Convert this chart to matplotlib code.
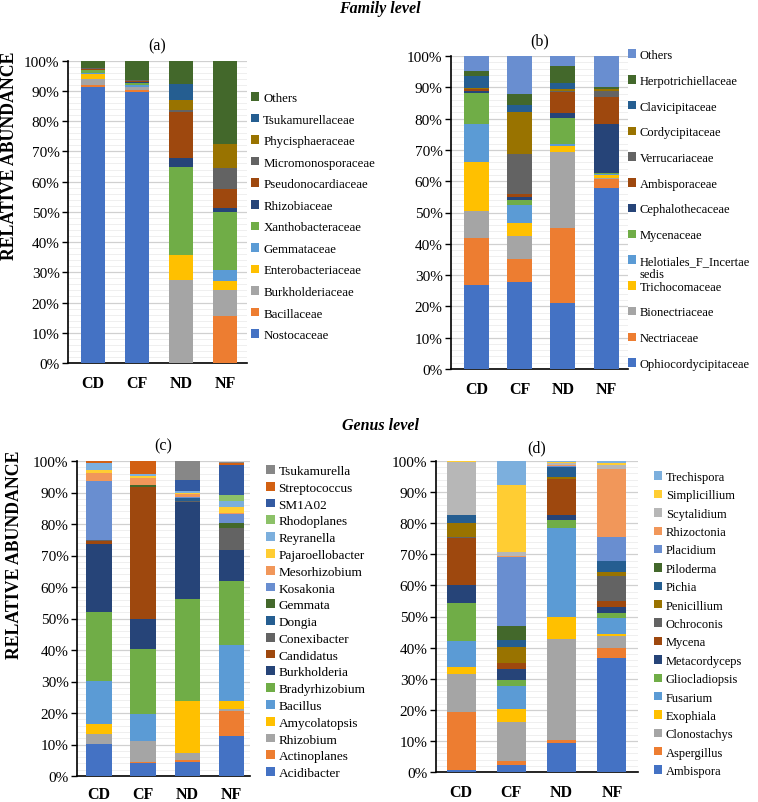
import matplotlib
matplotlib.use("Agg")
import matplotlib.pyplot as plt
from matplotlib.patches import Patch
from matplotlib.ticker import MultipleLocator, FuncFormatter

plt.rcParams['font.family'] = ['Liberation Serif', 'DejaVu Serif']

samples = ["CD", "CF", "ND", "NF"]

# (a) bacterial families, bottom -> top
fam_bac_names = ["Nostocaceae", "Bacillaceae", "Burkholderiaceae", "Enterobacteriaceae",
                 "Gemmataceae", "Xanthobacteraceae", "Rhizobiaceae", "Pseudonocardiaceae",
                 "Micromonosporaceae", "Phycisphaeraceae", "Tsukamurellaceae", "Others"]
fam_bac_vals = [
    [91.2, 89.7, 0.0, 0.0],
    [0.9, 0.6, 0.0, 15.5],
    [1.7, 0.9, 27.5, 8.7],
    [1.9, 0.2, 8.1, 2.8],
    [0.3, 0.4, 0.1, 3.9],
    [0.9, 0.8, 29.2, 19.2],
    [0.1, 0.3, 3.0, 1.2],
    [0.3, 0.4, 15.1, 6.1],
    [0.2, 0.2, 0.8, 7.0],
    [0.1, 0.1, 3.1, 8.1],
    [0.1, 0.1, 5.3, 0.0],
    [2.3, 6.3, 7.8, 27.5],
]
fam_bac_colors = ["#4472C4", "#ED7D31", "#A5A5A5", "#FFC000", "#5B9BD5", "#70AD47",
                  "#264478", "#9E480E", "#636363", "#997300", "#255E91", "#43682B"]

# (b) fungal families, bottom -> top
fam_fun_names = ["Ophiocordycipitaceae", "Nectriaceae", "Bionectriaceae", "Trichocomaceae",
                 "Helotiales_F_Incertae sedis", "Mycenaceae", "Cephalothecaceae", "Ambisporaceae",
                 "Verrucariaceae", "Cordycipitaceae", "Clavicipitaceae", "Herpotrichiellaceae",
                 "Others"]
fam_fun_vals = [
    [26.8, 27.7, 21.0, 57.8],
    [15.2, 7.4, 24.1, 2.8],
    [8.5, 7.5, 24.3, 0.4],
    [15.5, 3.9, 1.7, 0.9],
    [12.4, 5.9, 0.7, 0.5],
    [9.9, 1.5, 8.5, 0.3],
    [0.5, 0.9, 1.4, 15.5],
    [0.6, 1.1, 6.9, 8.8],
    [0.2, 12.7, 0.3, 1.8],
    [0.2, 13.5, 0.5, 0.6],
    [3.7, 2.2, 2.1, 0.2],
    [1.6, 3.7, 5.3, 0.5],
    [4.9, 12.0, 3.2, 9.9],
]
fam_fun_colors = ["#4472C4", "#ED7D31", "#A5A5A5", "#FFC000", "#5B9BD5", "#70AD47",
                  "#264478", "#9E480E", "#636363", "#997300", "#255E91", "#43682B", "#698ED0"]

# (c) bacterial genera, bottom -> top
gen_bac_names = ["Acidibacter", "Actinoplanes", "Rhizobium", "Amycolatopsis", "Bacillus",
                 "Bradyrhizobium", "Burkholderia", "Candidatus", "Conexibacter", "Dongia",
                 "Gemmata", "Kosakonia", "Mesorhizobium", "Pajaroellobacter", "Reyranella",
                 "Rhodoplanes", "SM1A02", "Streptococcus", "Tsukamurella"]
gen_bac_vals = [
    [10.2, 4.1, 4.4, 12.7],
    [0.0, 0.5, 0.8, 7.9],
    [3.2, 6.4, 2.2, 0.7],
    [3.1, 0.0, 16.3, 2.5],
    [13.7, 8.7, 0.0, 17.9],
    [21.8, 20.6, 32.5, 20.3],
    [21.8, 9.5, 30.7, 9.8],
    [0.9, 41.8, 0.0, 0.0],
    [0.2, 0.3, 0.3, 6.8],
    [0.0, 0.0, 1.0, 0.0],
    [0.0, 0.6, 0.0, 1.8],
    [18.6, 0.0, 0.5, 2.7],
    [2.6, 2.0, 0.7, 0.5],
    [1.0, 0.6, 0.5, 1.9],
    [2.2, 0.7, 0.5, 1.8],
    [0.0, 0.0, 0.0, 1.9],
    [0.1, 0.0, 3.5, 9.5],
    [0.6, 4.2, 0.0, 0.8],
    [0.0, 0.0, 6.1, 0.3],
]
gen_bac_colors = ["#4472C4", "#ED7D31", "#A5A5A5", "#FFC000", "#5B9BD5", "#70AD47",
                  "#264478", "#9E480E", "#636363", "#255E91", "#43682B", "#698ED0",
                  "#F1975A", "#FFCD33", "#7CAFDD", "#8CC168", "#335AA1", "#D26012", "#878787"]

# (d) fungal genera, bottom -> top
gen_fun_names = ["Ambispora", "Aspergillus", "Clonostachys", "Exophiala", "Fusarium",
                 "Gliocladiopsis", "Metacordyceps", "Mycena", "Ochroconis", "Penicillium",
                 "Pichia", "Piloderma", "Placidium", "Rhizoctonia", "Scytalidium",
                 "Simplicillium", "Trechispora"]
gen_fun_vals = [
    [0.5, 2.1, 9.3, 36.7],
    [18.8, 1.3, 1.1, 3.1],
    [12.3, 12.6, 32.4, 3.8],
    [2.1, 4.3, 7.1, 0.8],
    [8.5, 7.3, 28.7, 5.0],
    [12.3, 2.1, 2.4, 1.6],
    [5.7, 3.5, 1.6, 2.2],
    [15.0, 1.8, 11.7, 1.9],
    [0.3, 0.0, 0.0, 8.0],
    [4.5, 5.3, 0.7, 1.3],
    [2.7, 2.2, 3.2, 3.3],
    [0.0, 4.3, 0.0, 0.0],
    [0.0, 22.2, 0.2, 7.9],
    [0.0, 0.3, 0.4, 21.7],
    [16.9, 1.3, 0.5, 1.3],
    [0.4, 21.7, 0.5, 0.9],
    [0.0, 7.7, 0.2, 0.5],
]
gen_fun_colors = ["#4472C4", "#ED7D31", "#A5A5A5", "#FFC000", "#5B9BD5", "#70AD47",
                  "#264478", "#9E480E", "#636363", "#997300", "#255E91", "#43682B",
                  "#698ED0", "#F1975A", "#B7B7B7", "#FFCD33", "#7CAFDD"]

W, H = 758, 803
fig = plt.figure(figsize=(W / 100, H / 100), dpi=100)


def px_axes(left, right, top, bottom):
    return fig.add_axes([left / W, 1 - bottom / H, (right - left) / W, (bottom - top) / H])


def draw_panel(ax, names, vals, colors, xlim, width, title, title_pad, ylab_pos, xpad,
               leg_x, leg_top, leg_fs, leg_sp, leg_labels=None):
    x = list(range(len(samples)))
    bottom = [0.0] * len(samples)
    for name, v, c in zip(names, vals, colors):
        ax.bar(x, v, width=width, bottom=bottom, color=c, edgecolor='none', zorder=3, label=name)
        bottom = [b + vi for b, vi in zip(bottom, v)]
    ax.set_xlim(*xlim)
    ax.set_ylim(0, 100)
    ax.yaxis.set_major_locator(MultipleLocator(10))
    ax.yaxis.set_minor_locator(MultipleLocator(2))
    ax.yaxis.set_major_formatter(FuncFormatter(lambda v, p: f"{int(round(v))}%"))
    ax.grid(axis='y', which='major', color='#D0D0D0', lw=0.9, zorder=0)
    ax.grid(axis='y', which='minor', color='#EDEDED', lw=0.6, zorder=0)
    ax.set_axisbelow(True)
    for s in ['top', 'right']:
        ax.spines[s].set_visible(False)
    ax.spines['left'].set_color('black')
    ax.spines['left'].set_linewidth(1.2)
    ax.spines['bottom'].set_color('black')
    ax.spines['bottom'].set_linewidth(1.2)
    ax.tick_params(axis='y', which='major', length=4, width=1, labelsize=11, pad=2)
    ax.tick_params(axis='y', which='minor', length=0)
    ax.tick_params(axis='x', length=0, labelsize=11.5, pad=xpad)
    ax.set_xticks(x)
    ax.set_xticklabels(samples, fontweight='bold')
    ax.set_title(title, fontsize=11.5, pad=title_pad)
    if ylab_pos is not None:
        ax.set_ylabel("RELATIVE ABUNDANCE", fontsize=12.8, fontweight='bold')
        ax.yaxis.set_label_coords(*ylab_pos)
    handles = [Patch(facecolor=c, edgecolor='none') for c in colors][::-1]
    labels = list(leg_labels if leg_labels is not None else names)[::-1]
    leg = fig.legend(handles, labels, loc='upper left',
                     bbox_to_anchor=(leg_x / W, 1 - leg_top / H),
                     frameon=False, fontsize=leg_fs, labelspacing=leg_sp,
                     handlelength=0.65, handleheight=0.65, handletextpad=0.3,
                     borderpad=0, borderaxespad=0)
    return leg


ax_a = px_axes(68, 247, 61.7, 364)
draw_panel(ax_a, fam_bac_names, fam_bac_vals, fam_bac_colors, (-0.57, 3.5), 0.55,
           "(a)", 8, (-0.279, 0.688), 9, 251, 93, 9.3, 0.74)

ax_b = px_axes(451, 628, 57, 370)
b_labels = [n.replace(" sedis", "") for n in fam_fun_names]
leg_b = draw_panel(ax_b, fam_fun_names, fam_fun_vals, fam_fun_colors, (-0.6, 3.51), 0.58,
                   "(b)", 8, None, 9, 628, 50, 9, 1.10, leg_labels=b_labels)

ax_c = px_axes(77, 250, 462, 777)
draw_panel(ax_c, gen_bac_names, gen_bac_vals, gen_bac_colors, (-0.5, 3.43), 0.57,
           "(c)", 8, (-0.312, 0.705), 7, 266, 466, 9.5, 0.36)

ax_d = px_axes(436, 638, 462, 773)
draw_panel(ax_d, gen_fun_names, gen_fun_vals, gen_fun_colors, (-0.5, 3.52), 0.58,
           "(d)", 7, None, 9, 654, 472, 9, 0.51)

fig.text(380 / W, 1 - 9 / H, "Family level", ha='center', va='center',
         fontsize=11.5, fontweight='bold', fontstyle='italic')
fig.text(380 / W, 1 - 426 / H, "Genus level", ha='center', va='center',
         fontsize=11.5, fontweight='bold', fontstyle='italic')

# second line of the wrapped legend label in (b)
fig.canvas.draw()
renderer = fig.canvas.get_renderer()
for t in leg_b.get_texts():
    if t.get_text().startswith("Helotiales"):
        bb = t.get_window_extent(renderer)
        fig.text(bb.x0 / W, (bb.y0 - 13) / H, "sedis", ha='left', va='bottom', fontsize=9)

fig.savefig("out.png", dpi=100)
